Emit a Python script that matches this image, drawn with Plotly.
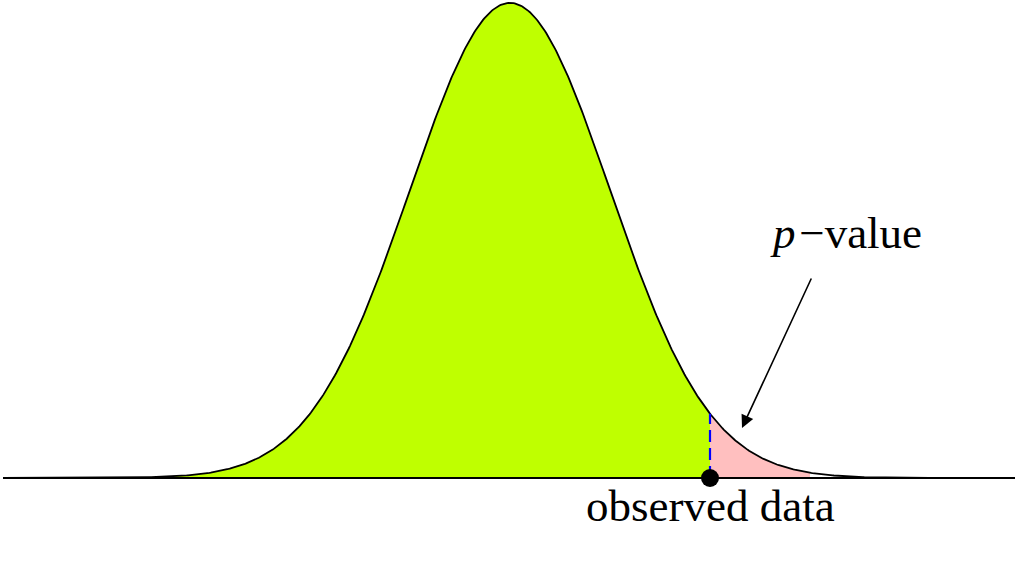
import numpy as np
import plotly.graph_objects as go

# Distribution parameters
mean = 0.0
sd = 1.0
observed = 2.0
domain = [-5.07, 5.05]
green_from = -3.6
pink_to = 3.0

labels = {"observed": "observed data", "pvalue": "<i>p</i>\u200a\u2212value"}


def pdf(x):
    return np.exp(-0.5 * ((x - mean) / sd) ** 2) / (sd * np.sqrt(2 * np.pi))


xs = np.linspace(domain[0], domain[1], 800)
xg = np.linspace(green_from, observed, 400)
xp = np.linspace(observed, pink_to, 200)

fig = go.Figure()
fig.add_trace(go.Scatter(x=xg, y=pdf(xg), fill="tozeroy", fillcolor="#bfff00",
                         line=dict(width=0), mode="lines", hoverinfo="skip"))
fig.add_trace(go.Scatter(x=xp, y=pdf(xp), fill="tozeroy", fillcolor="#ffbfbf",
                         line=dict(width=0), mode="lines", hoverinfo="skip"))
# baseline
fig.add_trace(go.Scatter(x=domain, y=[0, 0], mode="lines",
                         line=dict(color="black", width=1.8)))
# curve
fig.add_trace(go.Scatter(x=xs, y=pdf(xs), mode="lines",
                         line=dict(color="black", width=1.8)))
# dashed observed line
fig.add_trace(go.Scatter(x=[observed, observed], y=[0, pdf(observed)], mode="lines",
                         line=dict(color="#0000ff", width=2.2, dash="12px,6px")))
# observed point
fig.add_trace(go.Scatter(x=[observed], y=[0], mode="markers",
                         marker=dict(color="black", size=18)))

font = dict(family="Liberation Serif", size=45, color="black")
fig.add_annotation(x=observed, y=-0.0235, text=labels["observed"], showarrow=False,
                   font=font, xanchor="center", yanchor="middle")
fig.add_annotation(x=3.36, y=0.2058, text=labels["pvalue"], showarrow=False,
                   font=font, xanchor="center", yanchor="middle")
fig.add_annotation(x=2.32, y=0.0420, ax=3.02, ay=0.1688, axref="x", ayref="y",
                   xref="x", yref="y", text="", showarrow=True, arrowhead=2,
                   arrowsize=1.6, arrowwidth=1.6, arrowcolor="black")

fig.update_layout(
    width=1018, height=561, margin=dict(l=0, r=0, t=0, b=0),
    paper_bgcolor="white", plot_bgcolor="white", showlegend=False,
    xaxis=dict(range=[-5.1, 5.08], visible=False, fixedrange=True),
    yaxis=dict(range=[-0.0697, 0.4014], visible=False, fixedrange=True),
)
fig.write_html(
    "out.html",
    config={"responsive": False, "displayModeBar": False},
    post_script="document.body.style.margin='0px';document.body.style.overflow='hidden';"
                "Plotly.relayout('{plot_id}', {width: 1018, height: 561});",
)
